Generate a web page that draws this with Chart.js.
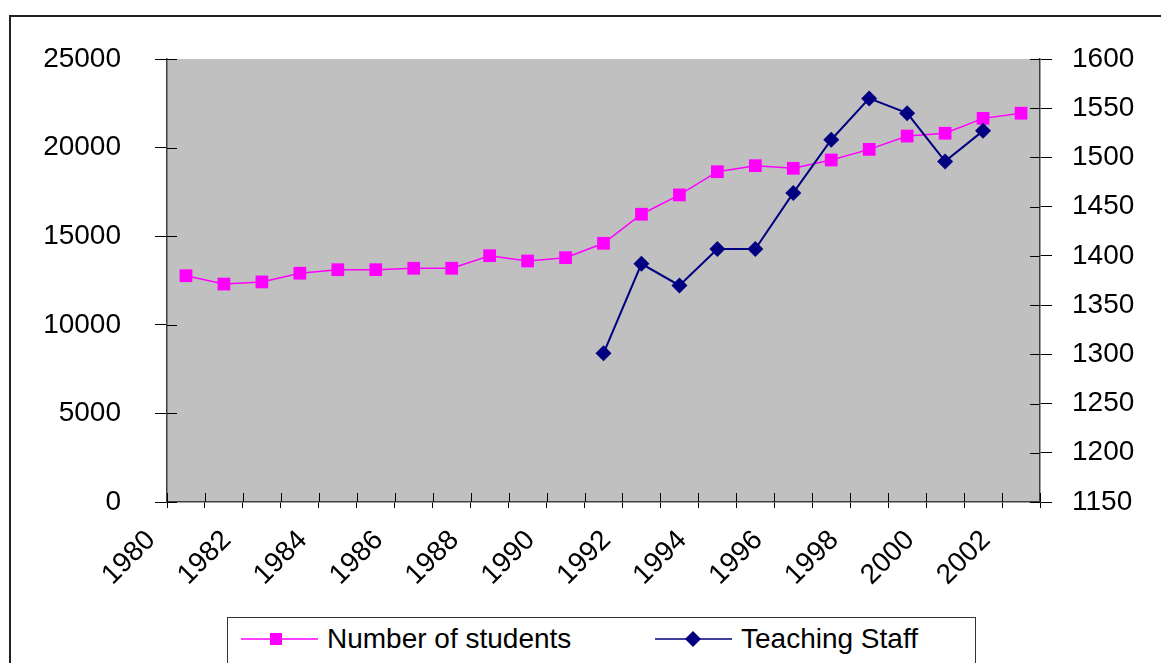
<!DOCTYPE html>
<html>
<head>
<meta charset="utf-8">
<script src="https://cdn.jsdelivr.net/npm/chart.js@4.4.1/dist/chart.umd.min.js"></script>
<style>
  html, body { margin: 0; padding: 0; background: #fff; }
  #wrap { position: relative; width: 1161px; height: 663px; overflow: hidden; font-family: "Liberation Sans", Arial, sans-serif; }
  #frame { position: absolute; left: 9px; top: 15px; width: 1200px; height: 700px; border: 2px solid #222; box-sizing: border-box; }
  canvas { position: absolute; left: 0; top: 0; }
  #legend { position: absolute; left: 227px; top: 617px; width: 749px; height: 80px; border: 1.5px solid #333; box-sizing: border-box; background: #fff; }
  .item { position: absolute; top: 0; height: 42px; display: flex; align-items: center; font-size: 28px; color: #000; white-space: nowrap; }
  .item svg { display: block; margin-right: 9px; }
</style>
</head>
<body>
<div id="wrap">
  <div id="frame"></div>
  <canvas id="c" width="1161" height="663"></canvas>
  <div id="legend">
    <div class="item" style="left:13px;">
      <svg width="77" height="20" viewBox="0 0 77 20"><line x1="0" y1="10" x2="77" y2="10" stroke="#FF00FF" stroke-width="1.5"/><rect x="29" y="4" width="12" height="12" fill="#FF00FF"/></svg>
      <span>Number of students</span>
    </div>
    <div class="item" style="left:427px;">
      <svg width="77" height="20" viewBox="0 0 77 20"><line x1="0" y1="10" x2="77" y2="10" stroke="#000080" stroke-width="1.5"/><polygon points="38,2 46,10 38,18 30,10" fill="#000080"/></svg>
      <span>Teaching Staff</span>
    </div>
  </div>
</div>
<script>
const years = ['1980','1981','1982','1983','1984','1985','1986','1987','1988','1989','1990','1991',
               '1992','1993','1994','1995','1996','1997','1998','1999','2000','2001','2002'];
const students = [12770, 12300, 12420, 12910, 13110, 13110, 13190, 13190, 13900, 13600, 13790, 14600,
                  16240, 17330, 18640, 18980, 18830, 19300, 19900, 20650, 20810, 21650, 21940];
const teachingStaff = [null, null, null, null, null, null, null, null, null, null, null, 1301,
                       1392, 1370, 1407, 1407, 1464, 1518, 1560, 1545, 1496, 1527, null];
const leftTicks = [0, 5000, 10000, 15000, 20000, 25000];
const rightTicks = [1150, 1200, 1250, 1300, 1350, 1400, 1450, 1500, 1550, 1600];

const FONT = { family: '"Liberation Sans", Arial, sans-serif', size: 28 };

const bgAndTicks = {
  id: 'bgAndTicks',
  beforeDraw(chart) {
    const { ctx, chartArea: a } = chart;
    ctx.save();
    ctx.fillStyle = '#C0C0C0';
    ctx.fillRect(a.left, a.top, a.right - a.left, a.bottom - a.top);
    ctx.restore();
  },
  afterDraw(chart) {
    const { ctx, chartArea: a, scales } = chart;
    ctx.save();
    ctx.strokeStyle = '#000';
    ctx.lineWidth = 1;
    const xs = scales.x;
    const half = (xs.getPixelForValue(1) - xs.getPixelForValue(0)) / 2;
    ctx.beginPath();
    for (let i = 0; i <= years.length; i++) {
      const px = Math.round(xs.getPixelForValue(i) - half) + 0.5;
      ctx.moveTo(px, a.bottom);
      ctx.lineTo(px, a.bottom - 9);
    }
    scales.y.ticks.forEach(t => {
      const py = Math.round(scales.y.getPixelForValue(t.value)) + 0.5;
      ctx.moveTo(a.left, py); ctx.lineTo(a.left + 10, py);
    });
    scales.y1.ticks.forEach(t => {
      const py = Math.round(scales.y1.getPixelForValue(t.value)) + 0.5;
      ctx.moveTo(a.right, py); ctx.lineTo(a.right - 10, py);
    });
    ctx.stroke();
    ctx.restore();
  }
};

new Chart(document.getElementById('c'), {
  type: 'line',
  data: {
    labels: years,
    datasets: [
      {
        label: 'Teaching Staff',
        data: teachingStaff,
        yAxisID: 'y1',
        borderColor: '#000080',
        backgroundColor: '#000080',
        borderWidth: 2,
        pointStyle: 'rectRot',
        pointRadius: 8,
        pointBorderWidth: 0,
        pointBackgroundColor: '#000080',
        tension: 0,
        spanGaps: false,
        order: 0
      },
      {
        label: 'Number of students',
        data: students,
        yAxisID: 'y',
        borderColor: '#FF00FF',
        backgroundColor: '#FF00FF',
        borderWidth: 1.5,
        pointStyle: 'rect',
        pointRadius: 9,
        pointBorderWidth: 0,
        pointBackgroundColor: '#FF00FF',
        tension: 0,
        order: 1
      }
    ]
  },
  options: {
    responsive: false,
    animation: false,
    events: [],
    layout: { padding: { top: 59, left: 0, right: 0, bottom: 0 } },
    plugins: { legend: { display: false }, tooltip: { enabled: false } },
    scales: {
      x: {
        type: 'category',
        offset: true,
        grid: { offset: true, drawOnChartArea: false, tickLength: 6, color: '#000', lineWidth: 1 },
        border: { color: '#404040', width: 1.5 },
        ticks: {
          autoSkip: false, minRotation: 45, maxRotation: 45,
          font: FONT, color: '#000', padding: 16, labelOffset: -35,
          callback: (v, i) => (i % 2 === 0 ? years[i] : '')
        },
        afterFit: s => { s.height = 161; }
      },
      y: {
        position: 'left',
        min: leftTicks[0], max: leftTicks[leftTicks.length - 1],
        afterBuildTicks: s => { s.ticks = leftTicks.map(v => ({ value: v })); },
        grid: { drawOnChartArea: false, tickLength: 12, color: '#000', lineWidth: 1 },
        border: { color: '#404040', width: 1.5 },
        ticks: { font: FONT, color: '#000', padding: 34, callback: v => String(v) },
        afterFit: s => { s.width = 167; }
      },
      y1: {
        position: 'right',
        min: rightTicks[0], max: rightTicks[rightTicks.length - 1],
        afterBuildTicks: s => { s.ticks = rightTicks.map(v => ({ value: v })); },
        grid: { drawOnChartArea: false, tickLength: 12, color: '#000', lineWidth: 1 },
        border: { color: '#404040', width: 1.5 },
        ticks: { font: FONT, color: '#000', padding: 20, callback: v => String(v) },
        afterFit: s => { s.width = 121; }
      }
    }
  },
  plugins: [bgAndTicks]
});
</script>
</body>
</html>
